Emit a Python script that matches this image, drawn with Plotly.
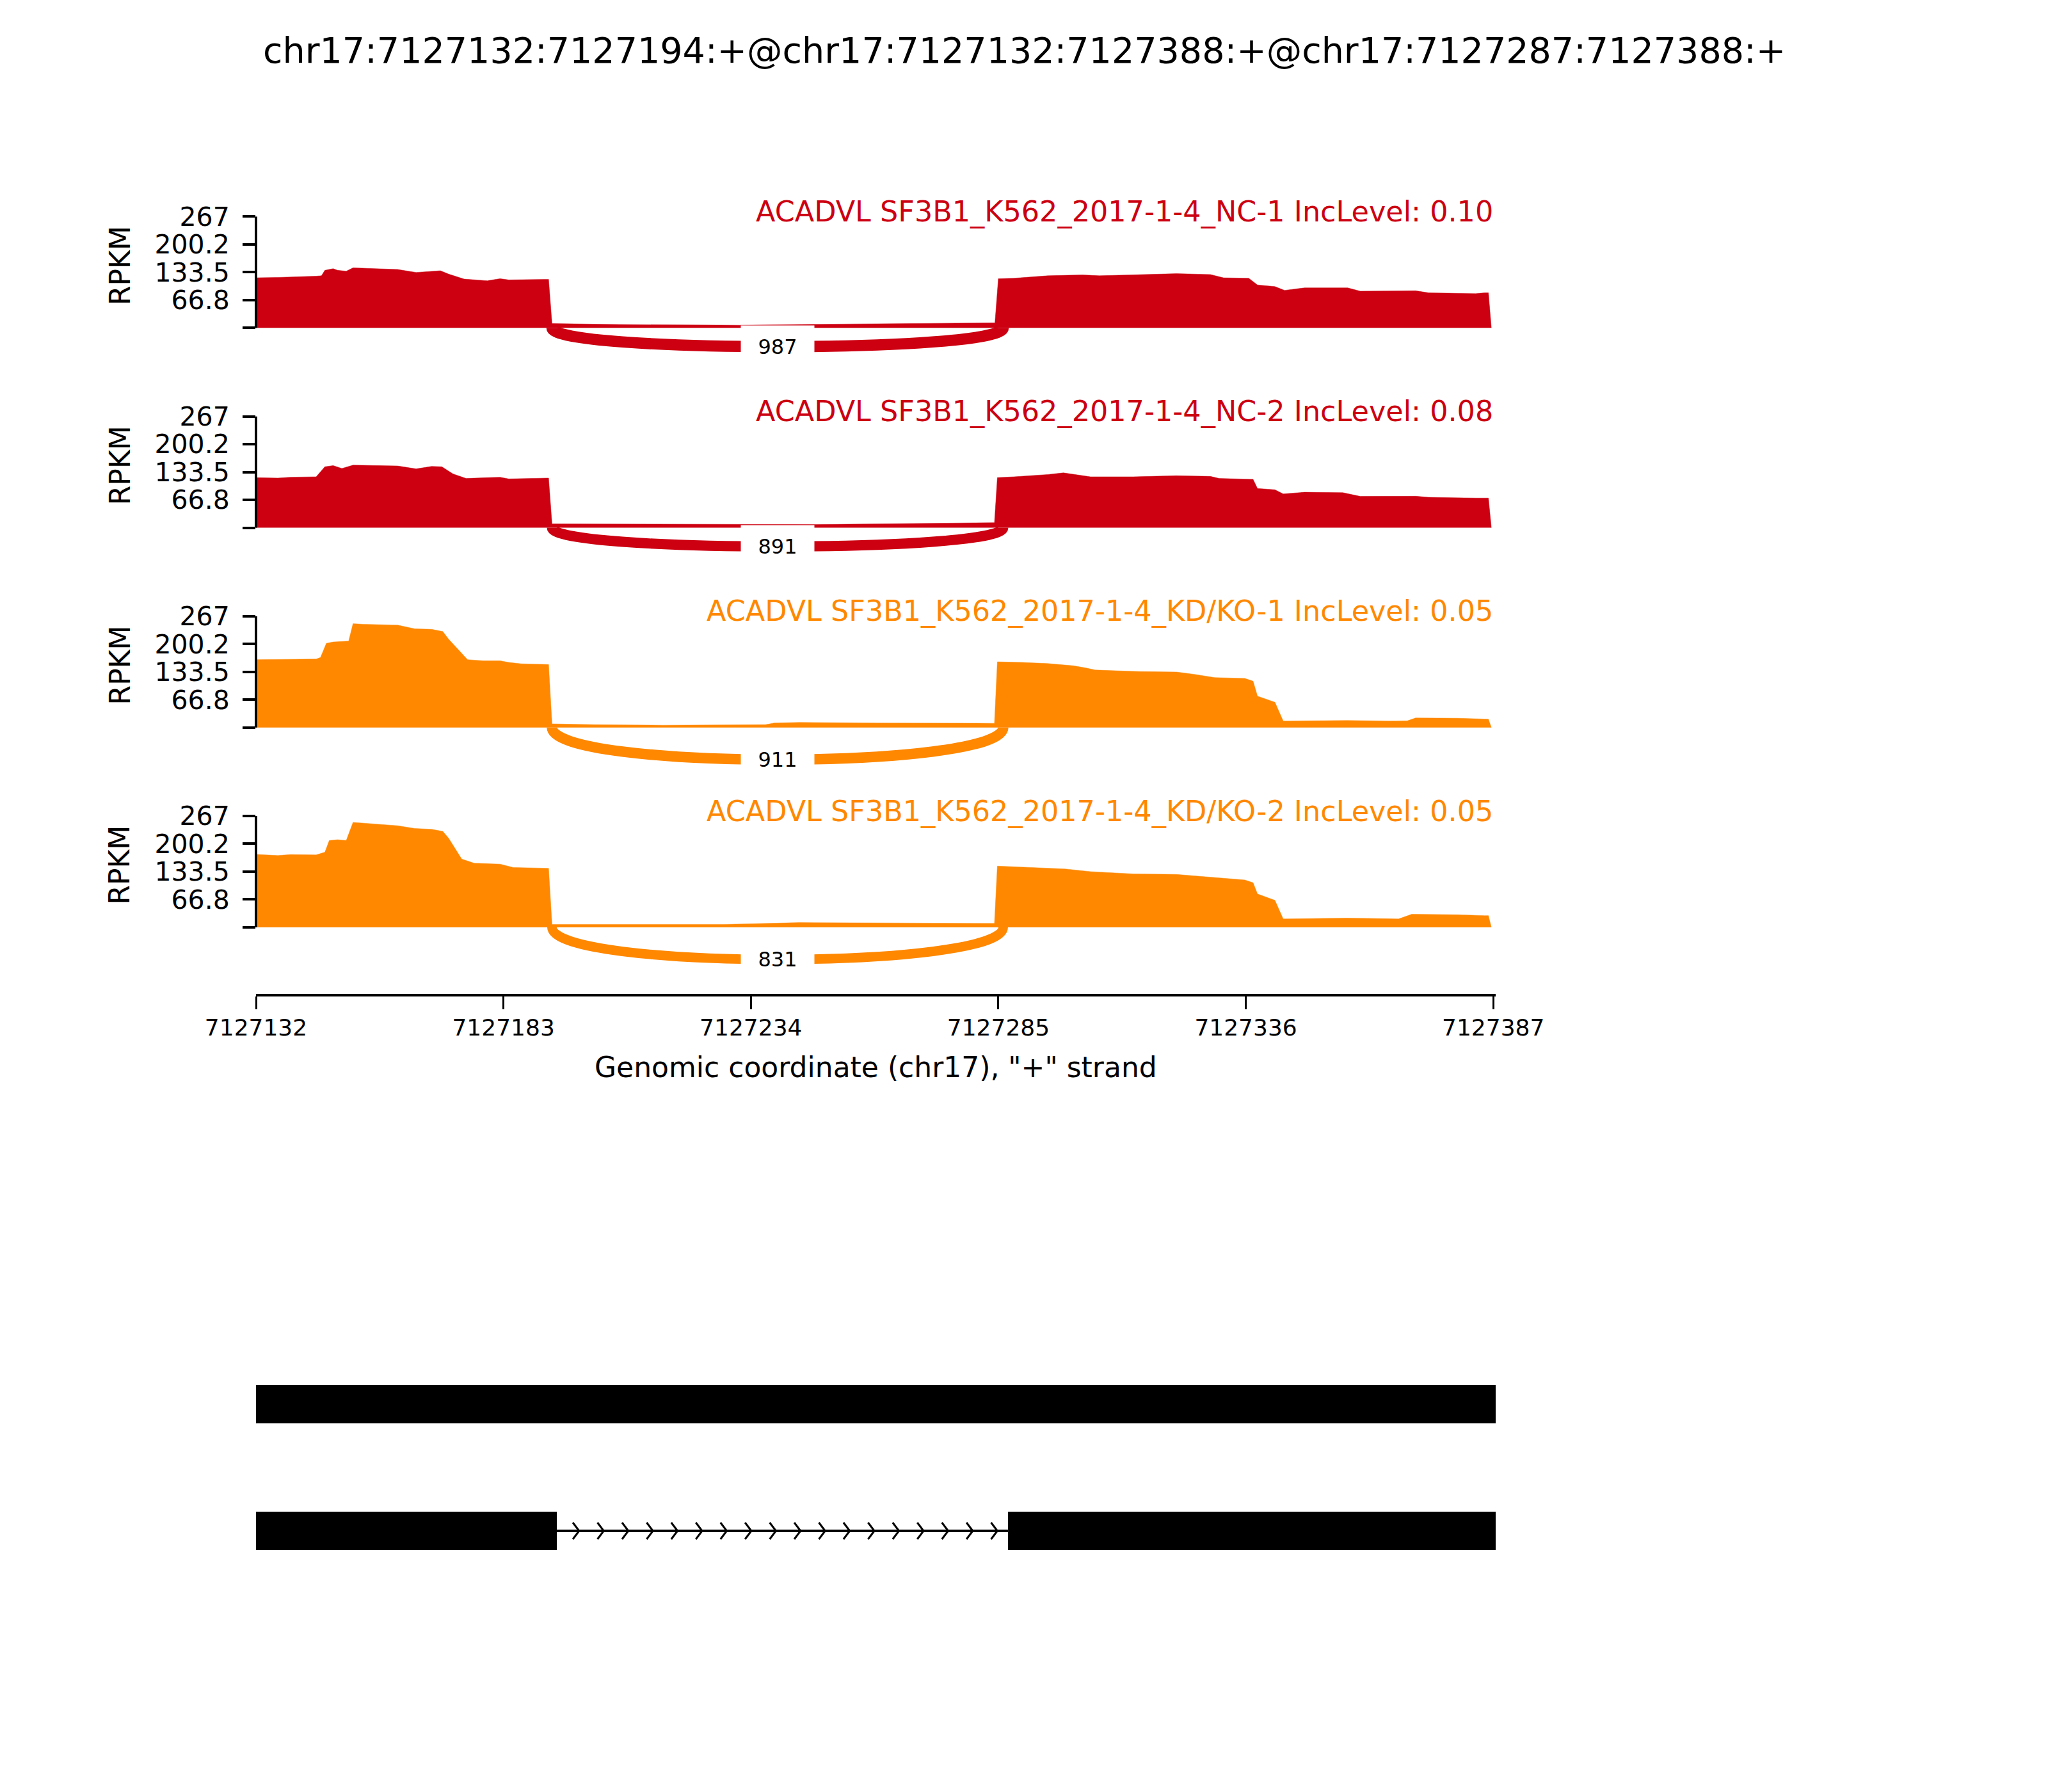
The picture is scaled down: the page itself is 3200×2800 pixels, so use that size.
import numpy as np
import plotly.graph_objects as go

# region / axes
region_start = 7127132
region_end = 7127387.5
x_ticks = [7127132, 7127183, 7127234, 7127285, 7127336, 7127387]
y_ticks = [0, 66.8, 133.5, 200.2, 267]
y_ticklabels = ['', '66.8', '133.5', '200.2', '267']
y_max = 267

title = 'chr17:7127132:7127194:+@chr17:7127132:7127388:+@chr17:7127287:7127388:+'
x_title = 'Genomic coordinate (chr17), "+" strand'

sample_labels = [
    'ACADVL SF3B1_K562_2017-1-4_NC-1 IncLevel: 0.10',
    'ACADVL SF3B1_K562_2017-1-4_NC-2 IncLevel: 0.08',
    'ACADVL SF3B1_K562_2017-1-4_KD/KO-1 IncLevel: 0.05',
    'ACADVL SF3B1_K562_2017-1-4_KD/KO-2 IncLevel: 0.05',
]
sample_colors = ['#CC0011', '#CC0011', '#FF8800', '#FF8800']

# coverage (bp offset from region_start, RPKM)
nc1_pos = [0, 4.5, 12.4, 13.5, 14.2, 15.9, 16.8, 18.6, 20, 22.1, 29.2, 33, 38, 39.7, 42.9, 47.7,
           50.3, 52.1, 56.5, 60.3, 61, 75, 99.7, 115.6, 151.7, 152.3, 153, 156.2, 163.2, 170.3,
           173.8, 180.8, 189.7, 196.7, 199.4, 204.6, 206.4, 210, 212, 216.1, 225, 227.6, 239,
           241.7, 251.4, 253.2, 254, 254.6]
nc1_rpkm = [120, 121, 124, 125, 138, 142, 138, 136, 144, 143, 140, 133, 137, 129, 117, 113,
            118, 115, 116, 116.5, 10.4, 8, 6.3, 8.6, 12, 12, 118, 119, 125, 127,
            125, 127, 130, 128, 120, 119, 103, 99, 90, 96, 96, 88, 89,
            84, 82, 84, 84, 0]

nc2_pos = [0, 4.5, 7.1, 12.4, 14.2, 15.9, 17.7, 20, 29.2, 33, 36.2, 38.3, 40.6, 43.3, 47.7,
           50.3, 52.1, 56.5, 60.3, 61, 99.7, 115.6, 151.7, 152.2, 152.8, 156.2, 163.2, 166.4,
           172, 180.8, 189.7, 196.7, 198.5, 205.5, 206.4, 210, 211.7, 216.1, 224, 227.6, 239,
           241.7, 251.4, 254, 254.6]
nc2_rpkm = [120, 119, 121, 122, 146, 149, 142, 150, 148, 141, 147, 146, 129, 118, 120,
            121, 117, 118, 119, 9.2, 7.5, 7.5, 12, 12, 120, 122, 127.5, 131.5,
            122, 122, 124.6, 123, 118, 116, 94, 91, 81, 85, 84, 75, 75.5,
            72.7, 71, 71, 0]

kd1_pos = [0, 4.5, 8, 12.4, 13.3, 14.5, 15.9, 19.1, 20, 22.1, 29.2, 32.7, 36.2, 38.5, 39.7,
           42.4, 43.6, 46.8, 50.3, 52.1, 54.7, 60.3, 61, 69.7, 83.8, 105, 106.8, 112, 127.9,
           151.7, 152.2, 152.8, 157.9, 163.2, 168.5, 171.1, 172.9, 180.8, 189.7, 193.2, 197.6,
           203.8, 205.5, 206.4, 210, 211.7, 224.9, 233.8, 237.3, 239, 247.9, 253.2, 254, 254.6]
kd1_rpkm = [162.7, 163, 164, 164, 168, 201.8, 205, 207, 248.8, 247.5, 245.5, 236.7, 235.4, 230,
            211.8, 178, 162.7, 160, 160, 156, 152.7, 151, 8.7, 6.7, 5.4, 6.7, 10.8, 12.1, 10.8,
            10, 10, 157.4, 156, 153.3, 148, 142.6, 137.9, 134.5, 133, 127.8, 119.7,
            117.7, 111, 75.3, 60.5, 15.5, 16.8, 15.5, 16, 22.9, 22.2, 20.2, 20, 0]

kd2_pos = [0, 4.5, 7.1, 12.4, 14.2, 15.1, 16.8, 18.6, 20, 22.1, 29.2, 32.7, 36.2, 38.5, 39.7,
           42.4, 45, 50.3, 53, 60.3, 61, 96.2, 106.8, 112, 151.7, 152.2, 152.8, 159.7, 166.7,
           172, 180.8, 189.7, 196.7, 203.8, 205.5, 206.4, 210, 211.7, 224.9, 235.5, 238.2,
           247.9, 253.2, 254, 254.6]
kd2_rpkm = [174.9, 172, 174.5, 173.6, 180, 208, 210, 208, 251.6, 250, 243.6, 237, 235, 230,
            213.6, 163.5, 153.5, 151.5, 143.5, 141.5, 6.7, 6.7, 10, 11.3, 9.3, 9.3, 146.8,
            143.5, 140, 133.5, 128, 126.8, 120, 113.5, 106.8, 80, 64.7, 20, 22, 20, 31.4,
            30, 28, 28, 0]

coverage = [(nc1_pos, nc1_rpkm), (nc2_pos, nc2_rpkm), (kd1_pos, kd1_rpkm), (kd2_pos, kd2_rpkm)]

# junction arcs
junction_counts = [987, 891, 911, 831]
junction_sites = [7127193, 7127286]
arc_depth = [45, 45, 77, 77]  # how far below zero the arc bottom sits (RPKM units)

# gene models (top row first)
isoform_exons = [
    [(7127132, 7127388)],
    [(7127132, 7127194), (7127287, 7127388)],
]

# the page body has an 8px margin, so the figure is a bit smaller and shifted
OFF = 8
W, H = 3200 - OFF, 2800 - OFF
FONT = 'DejaVu Sans'


def fx(px):
    return (px - OFF) / W


def fy(px):
    return 1 - (px - OFF) / H


fig = go.Figure()
shapes = []
annotations = []
layout = {}

px_per_unit = 174 / y_max
y_min = -130

for k, (pos, vals) in enumerate(coverage):
    yname = 'y' if k == 0 else f'y{k + 1}'
    axname = 'yaxis' if k == 0 else f'yaxis{k + 1}'
    color = sample_colors[k]
    top = 338.3 + 312.2 * k
    bottom = top + (y_max - y_min) * px_per_unit

    layout[axname] = dict(
        domain=[fy(bottom), fy(top)], range=[y_min, y_max], anchor='x', automargin=False,
        tickvals=y_ticks, ticktext=y_ticklabels, ticks='outside', ticklen=20,
        tickwidth=4, tickcolor='black', ticklabelstandoff=12,
        tickfont=dict(family=FONT, size=41, color='black'),
        showgrid=False, zeroline=False, showline=False,
    )

    fig.add_trace(go.Scatter(
        x=[region_start + p for p in pos], y=vals, xaxis='x', yaxis=yname,
        mode='lines', fill='tozeroy', fillcolor=color,
        line=dict(color=color, width=0.5), hoverinfo='skip', showlegend=False,
    ))

    # left spine only over 0..max
    shapes.append(dict(type='line', xref='x domain', x0=0, x1=0, yref=yname, y0=0, y1=y_max,
                       line=dict(color='black', width=4)))

    # junction arc
    j0, j1 = junction_sites
    h = arc_depth[k] / 0.75
    shapes.append(dict(
        type='path', xref='x', yref=yname,
        path=f'M {j0},0 C {j0},{-h} {j1},{-h} {j1},0',
        line=dict(color=color, width=junction_counts[k] / 56),
    ))
    annotations.append(dict(
        x=(j0 + j1) / 2, y=-arc_depth[k], xref='x', yref=yname, text=str(junction_counts[k]),
        xanchor='center', yanchor='middle',
        showarrow=False, font=dict(family=FONT, size=32, color='black'),
        bgcolor='white', width=114, height=66, borderpad=0,
    ))

    annotations.append(dict(
        x=fx(2335), y=fy(331 + 312.2 * k), xref='paper', yref='paper', text=sample_labels[k],
        xanchor='right', yanchor='middle', showarrow=False,
        font=dict(family=FONT, size=44.5, color=color),
    ))
    annotations.append(dict(
        x=fx(187), y=fy(415 + 312.2 * k), xref='paper', yref='paper', text='RPKM',
        xanchor='center', yanchor='middle',
        textangle=-90, showarrow=False, font=dict(family=FONT, size=44, color='black'),
    ))

# gene track
layout['yaxis5'] = dict(domain=[fy(2491), fy(2095)], range=[0.5, 2.5], anchor='x',
                        visible=False, automargin=False)
exon_half = 30 / 198
for i, exons in enumerate(isoform_exons):
    row = len(isoform_exons) - i
    for s, e in exons:
        shapes.append(dict(type='rect', xref='x', yref='y5', x0=s, x1=e,
                           y0=row - exon_half, y1=row + exon_half,
                           fillcolor='black', line=dict(width=0)))
    for (s0, e0), (s1, e1) in zip(exons[:-1], exons[1:]):
        fig.add_trace(go.Scatter(x=[e0, s1], y=[row, row], xaxis='x', yaxis='y5', mode='lines',
                                 line=dict(color='black', width=4), hoverinfo='skip',
                                 showlegend=False))
        cx, cy = [], []
        for xc in np.linspace(e0 + 4.6, s1 - 2.2, 18):
            cx += [xc - 1.3, xc, xc - 1.3, None]
            cy += [row + 13 / 198, row, row - 13 / 198, None]
        fig.add_trace(go.Scatter(x=cx, y=cy, xaxis='x', yaxis='y5', mode='lines',
                                 line=dict(color='black', width=3), hoverinfo='skip',
                                 showlegend=False))

annotations.append(dict(x=fx(1600), y=fy(78), xref='paper', yref='paper', text=title,
                        xanchor='center', yanchor='middle', showarrow=False,
                        font=dict(family=FONT, size=55.5, color='black')))
annotations.append(dict(x=fx((400 + 2337) / 2), y=fy(1667), xref='paper', yref='paper',
                        text=x_title, xanchor='center', yanchor='middle', showarrow=False,
                        font=dict(family=FONT, size=44, color='black')))

fig.update_layout(
    width=W, height=H, margin=dict(l=0, r=0, t=0, b=0, autoexpand=False),
    paper_bgcolor='white', plot_bgcolor='white', showlegend=False,
    xaxis=dict(
        domain=[fx(400), fx(2337)], range=[region_start, region_end], anchor='free',
        position=fy(1555), showline=True, linewidth=4, linecolor='black', automargin=False,
        ticks='outside', ticklen=20, tickwidth=3, tickcolor='black',
        tickvals=x_ticks, ticktext=[str(t) for t in x_ticks], ticklabelstandoff=-2,
        tickfont=dict(family=FONT, size=36, color='black'),
        showgrid=False, zeroline=False,
    ),
    shapes=shapes, annotations=annotations,
    **layout,
)

fig.write_html('out.html')
